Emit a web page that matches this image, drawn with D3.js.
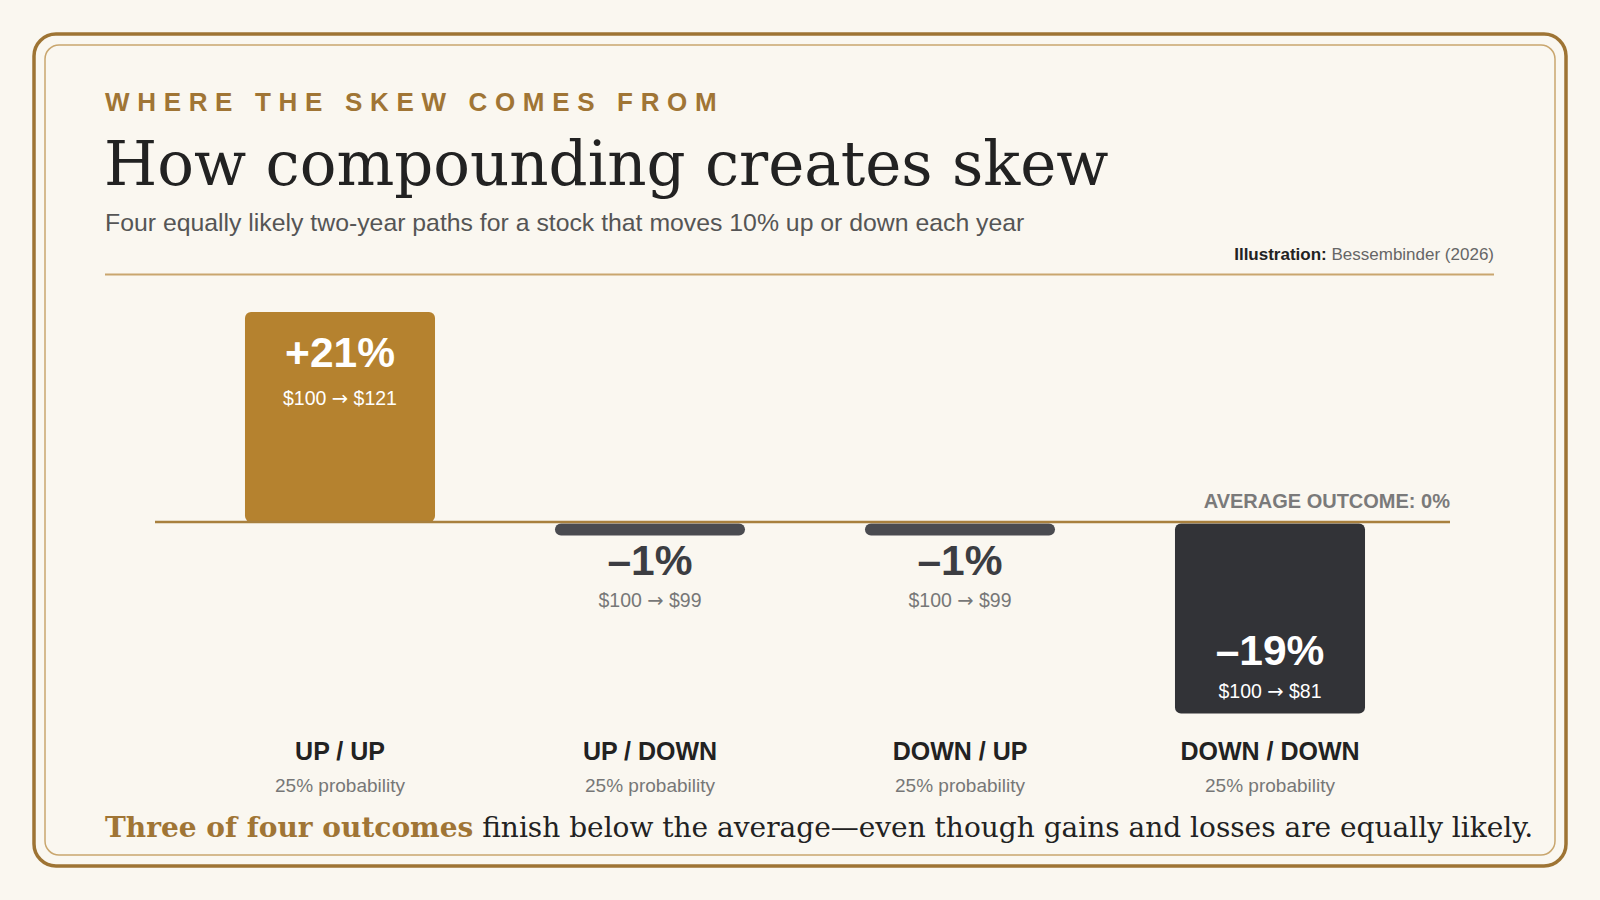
<!DOCTYPE html>
<html>
<head>
<meta charset="utf-8">
<script src="https://cdn.jsdelivr.net/npm/d3@7"></script>
<style>
  html, body { margin: 0; padding: 0; background: #faf7f0; }
  svg { display: block; }
  .sans { font-family: "Liberation Sans", Arial, Helvetica, sans-serif; }
  .serif { font-family: "DejaVu Serif", Georgia, serif; }
  .arrow { font-family: "DejaVu Sans", sans-serif; }
</style>
</head>
<body>
<div id="wrapper"></div>
<script>
'use strict';

//#region DATA
const paths = ['UP / UP', 'UP / DOWN', 'DOWN / UP', 'DOWN / DOWN'];
const returns = [21, -1, -1, -19];
const endValues = [121, 99, 99, 81];
const probabilities = [25, 25, 25, 25];
const averageOutcome = 0;
//#endregion DATA

const dataset = paths.map((p, i) => ({
  path: p,
  ret: returns[i],
  end: endValues[i],
  prob: probabilities[i]
}));

function drawChart () {
  const xAccessor = d => d.path;
  const yAccessor = d => d.ret;

  //#region DIMENSIONS
  const dimensions = {
    width: 1600,
    height: 900,
    frame: 34
  };
  //#endregion DIMENSIONS

  const svg = d3.select('#wrapper')
    .append('svg')
    .attr('width', dimensions.width)
    .attr('height', dimensions.height);

  //#region FRAME
  svg.append('rect')
    .attr('x', dimensions.frame)
    .attr('y', dimensions.frame)
    .attr('width', dimensions.width - dimensions.frame * 2)
    .attr('height', 832)
    .attr('rx', 22)
    .attr('fill', 'none')
    .attr('stroke', '#9e7434')
    .attr('stroke-width', 3.5);

  svg.append('rect')
    .attr('x', dimensions.frame + 11)
    .attr('y', dimensions.frame + 11)
    .attr('width', dimensions.width - dimensions.frame * 2 - 22)
    .attr('height', 810)
    .attr('rx', 14)
    .attr('fill', 'none')
    .attr('stroke', '#c9a66e')
    .attr('stroke-width', 1.5);
  //#endregion FRAME

  //#region HEADER
  svg.append('text')
    .attr('class', 'sans')
    .attr('x', 105)
    .attr('y', 111)
    .attr('fill', '#a07535')
    .style('font-size', '26px')
    .style('font-weight', 700)
    .style('letter-spacing', '0.295em')
    .text('WHERE THE SKEW COMES FROM');

  svg.append('text')
    .attr('class', 'serif')
    .attr('x', 104)
    .attr('y', 185)
    .attr('fill', '#222222')
    .style('font-size', '61px')
    .text('How compounding creates skew');

  svg.append('text')
    .attr('class', 'sans')
    .attr('x', 105)
    .attr('y', 231)
    .attr('fill', '#555555')
    .style('font-size', '24.8px')
    .text('Four equally likely two-year paths for a stock that moves 10% up or down each year');

  const source = svg.append('text')
    .attr('class', 'sans')
    .attr('x', 1494)
    .attr('y', 260)
    .attr('text-anchor', 'end')
    .style('font-size', '17px');
  source.append('tspan').attr('fill', '#222').style('font-weight', 700).text('Illustration: ');
  source.append('tspan').attr('fill', '#666').text('Bessembinder (2026)');

  svg.append('line')
    .attr('x1', 105).attr('x2', 1494)
    .attr('y1', 274.5).attr('y2', 274.5)
    .attr('stroke', '#c9a66e')
    .attr('stroke-width', 2);
  //#endregion HEADER

  //#region SCALES
  const xScale = d3.scaleBand()
    .domain(dataset.map(xAccessor))
    .range([185, 1425])
    .paddingInner(0.387)
    .paddingOuter(0.1935);

  const yScale = d3.scaleLinear()
    .domain([-19, 21])
    .range([712, 312]);
  //#endregion SCALES

  const plot = svg.append('g');

  //#region BARS
  const colour = d => d.ret > 0 ? '#b5822f' : (d.ret < -5 ? '#323337' : '#4a4b50');

  plot.selectAll('rect.bar')
    .data(dataset)
    .join('rect')
    .attr('class', 'bar')
    .attr('x', d => xScale(xAccessor(d)))
    .attr('width', xScale.bandwidth())
    .attr('y', d => d.ret > 0 ? yScale(yAccessor(d)) : yScale(0) + 1.5)
    .attr('height', d => Math.max(12, Math.abs(yScale(yAccessor(d)) - yScale(0))))
    .attr('rx', 6)
    .attr('fill', colour);

  // zero / average line
  plot.append('line')
    .attr('x1', 155).attr('x2', 1450)
    .attr('y1', yScale(averageOutcome)).attr('y2', yScale(averageOutcome))
    .attr('stroke', '#a8803e')
    .attr('stroke-width', 2.5);

  plot.append('text')
    .attr('class', 'sans')
    .attr('x', 1450)
    .attr('y', yScale(averageOutcome) - 14)
    .attr('text-anchor', 'end')
    .attr('fill', '#7a7a7a')
    .style('font-size', '20px')
    .style('font-weight', 700)
    .text(`AVERAGE OUTCOME: ${averageOutcome}%`);
  //#endregion BARS

  //#region VALUE LABELS
  const fmtRet = v => (v > 0 ? '+' : '\u2013') + Math.abs(v) + '%';

  const labels = plot.selectAll('g.value')
    .data(dataset)
    .join('g')
    .attr('class', 'value sans')
    .attr('transform', d => `translate(${xScale(xAccessor(d)) + xScale.bandwidth() / 2}, 0)`)
    .attr('text-anchor', 'middle');

  // place label inside tall bars, beneath short negative ones
  const valueY = d => {
    if (d.ret > 0) return yScale(d.ret) + 55;
    if (d.ret < -5) return yScale(d.ret) - 47;
    return yScale(0) + 53;
  };
  const subY = d => {
    if (d.ret > 0) return yScale(d.ret) + 93;
    if (d.ret < -5) return yScale(d.ret) - 14;
    return yScale(0) + 85;
  };
  const inside = d => d.ret > 0 || d.ret < -5;

  labels.append('text')
    .attr('y', valueY)
    .attr('fill', d => inside(d) ? '#ffffff' : '#3c3d42')
    .style('font-size', '42.5px')
    .style('font-weight', 700)
    .text(d => fmtRet(d.ret));

  const sub = labels.append('text')
    .attr('y', subY)
    .attr('fill', d => inside(d) ? '#ffffff' : '#777777')
    .style('font-size', '19.5px');
  sub.append('tspan').text('$100 ');
  sub.append('tspan').attr('class', 'arrow').text('\u2192');
  sub.append('tspan').text(d => ` $${d.end}`);
  //#endregion VALUE LABELS

  //#region CATEGORY LABELS
  const cats = plot.selectAll('g.cat')
    .data(dataset)
    .join('g')
    .attr('class', 'cat sans')
    .attr('transform', d => `translate(${xScale(xAccessor(d)) + xScale.bandwidth() / 2}, 0)`)
    .attr('text-anchor', 'middle');

  cats.append('text')
    .attr('y', 760)
    .attr('fill', '#222222')
    .style('font-size', '25px')
    .style('font-weight', 700)
    .text(d => d.path);

  cats.append('text')
    .attr('y', 792)
    .attr('fill', '#777777')
    .style('font-size', '19px')
    .text(d => `${d.prob}% probability`);
  //#endregion CATEGORY LABELS

  //#region FOOTNOTE
  const note = svg.append('text')
    .attr('class', 'serif')
    .attr('x', 105)
    .attr('y', 837)
    .style('font-size', '28px');
  note.append('tspan')
    .attr('fill', '#a07535')
    .style('font-weight', 700)
    .text('Three of four outcomes');
  note.append('tspan')
    .attr('fill', '#222222')
    .text(' finish below the average\u2014even though gains and losses are equally likely.');
  //#endregion FOOTNOTE
}

drawChart();
</script>
</body>
</html>
